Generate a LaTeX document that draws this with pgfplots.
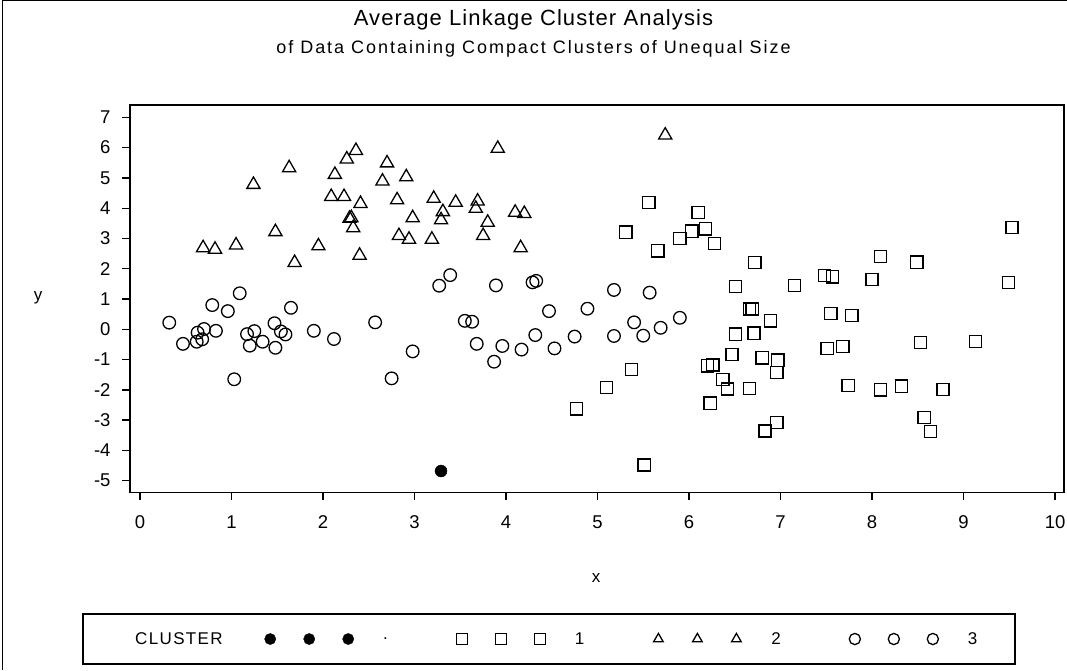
\documentclass[border=0pt]{standalone}
\usepackage{fontspec}
\setmainfont{Liberation Sans}
\usepackage{pgfplots}
\pgfplotsset{compat=1.18}

% cluster membership from the average linkage run
\pgfplotstableread{
x y
3.29 -4.68
}\clusterdot

\newcommand\sasfont[2]{\fontsize{#1}{#1}\selectfont\addfontfeature{LetterSpace=#2}}

\begin{document}
\begin{tikzpicture}[x=1pt,y=1pt]
\useasboundingbox (0,0) rectangle (1067,670);
% page frame
\draw[line width=1.4pt] (2.5,0) -- (2.5,669.3) -- (1067,669.3);
% titles
\node[font=\sasfont{22}{5}] at (533.5,650) {Average Linkage Cluster Analysis};
\node[font=\sasfont{18}{11}] at (533.5,621) {of Data Containing Compact Clusters of Unequal Size};
% legend frame and header
\draw[line width=1.3pt] (83,6) rectangle (1015,56);
\node[font=\sasfont{17}{8}, anchor=west, inner sep=0pt] at (135,31) {CLUSTER};

\begin{axis}[
  at={(130pt,177.7pt)}, anchor=south west,
  scale only axis, width=934pt, height=387.3pt,
  xmin=-0.109, xmax=10.098, ymin=-5.383, ymax=7.408,
  xtick={0,...,10}, ytick={-5,...,7},
  tick pos=left, tick align=outside,
  major tick length=8pt,
  axis line style={line width=1.3pt},
  every tick/.style={line width=1.3pt, black},
  tick label style={font=\fontsize{18.5}{20}\selectfont},
  xticklabel style={yshift=-12pt},
  yticklabel style={xshift=-8pt},
  /pgf/number format/assume math mode=true,
  xlabel={x}, ylabel={y},
  label style={font=\fontsize{17}{20}\selectfont},
  xlabel style={at={(0.499,-0.2213)}, anchor=center},
  ylabel style={at={(-0.0985,0.5017)}, anchor=center, rotate=-90},
  legend columns=4,
  legend style={at={(0.1435,-0.3788)}, anchor=west, draw=none, fill=none,
    inner sep=0pt, font=\fontsize{17}{20}\selectfont,
    nodes={inner sep=0pt},
    /tikz/every odd column/.style={column sep=29pt},
    /tikz/every even column/.style={column sep=68pt}},
  legend image code/.code={
    \path[draw=none, fill=none] (-6pt,-6pt) rectangle (84pt,6pt);
    \draw[only marks, mark size=5.6pt] plot coordinates {(0pt,0pt) (39pt,0pt) (78pt,0pt)};
  },
]
\addplot[only marks, mark=*, mark size=6pt, black] table {\clusterdot};
\addlegendentry{.}

\addplot[only marks, mark=square, mark size=6.1pt, black, mark options={line width=1.3pt}] coordinates {
(5.56,4.19) (5.31,3.21) (6.10,3.85) (6.03,3.24) (6.18,3.32) (5.90,3.00)
(6.28,2.84) (5.66,2.59) (6.72,2.21) (6.51,1.41) (7.15,1.44) (7.48,1.77)
(7.57,1.73) (8.09,2.40) (8.49,2.22) (8.00,1.65) (9.53,3.37) (9.49,1.54)
(5.37,-1.32) (5.10,-1.92) (5.51,-4.48) (6.66,0.67) (6.69,0.67) (6.89,0.28)
(6.51,-0.16) (6.71,-0.13) (6.47,-0.84) (6.20,-1.21) (6.26,-1.18) (6.37,-1.65)
(6.42,-1.97) (6.23,-2.44) (6.66,-1.95) (6.80,-0.94) (6.97,-1.02) (6.96,-1.43)
(6.96,-3.08) (6.83,-3.36) (7.55,0.53) (7.78,0.45) (7.51,-0.63) (7.68,-0.57)
(7.74,-1.86) (8.09,-2.00) (8.32,-1.88) (8.77,-1.99) (8.78,-1.98) (8.53,-0.44)
(9.13,-0.41) (8.57,-2.92) (8.64,-3.38) (4.77,-2.63)
};
\addlegendentry{1}

\addplot[only marks, mark=triangle, mark size=7.6pt, black, mark options={line width=1.3pt}] coordinates {
(0.69,2.69) (0.82,2.64) (1.05,2.78) (1.24,4.78) (1.48,3.22) (1.63,5.33)
(1.69,2.20) (1.95,2.75) (2.09,4.38) (2.23,4.38) (2.13,5.11) (2.26,5.62)
(2.36,5.90) (2.29,3.66) (2.31,3.68) (2.33,3.35) (2.41,4.15) (2.40,2.44)
(2.65,4.89) (2.70,5.49) (2.81,4.27) (2.91,5.03) (2.83,3.09) (2.94,2.97)
(2.98,3.68) (3.19,2.97) (3.21,4.32) (3.31,3.88) (3.29,3.61) (3.45,4.19)
(3.69,4.23) (3.67,3.99) (3.80,3.53) (3.75,3.09) (3.91,5.97) (4.10,3.86)
(4.20,3.82) (4.16,2.69) (5.74,6.41)
};
\addlegendentry{2}

\addplot[only marks, mark=o, mark size=6.3pt, black, mark options={line width=1.3pt}] coordinates {
(0.32,0.22) (0.47,-0.48) (0.63,-0.11) (0.70,0.01) (0.62,-0.41) (0.68,-0.33)
(0.79,0.80) (0.83,-0.05) (0.96,0.60) (1.09,1.19) (1.03,-1.65) (1.17,-0.16)
(1.25,-0.06) (1.20,-0.54) (1.34,-0.41) (1.47,0.20) (1.48,-0.61) (1.54,-0.07)
(1.59,-0.17) (1.65,0.71) (1.90,-0.05) (2.12,-0.32) (2.57,0.23) (2.75,-1.62)
(2.98,-0.73) (3.27,1.44) (3.39,1.79) (3.89,1.45) (4.29,1.55) (4.33,1.60)
(3.55,0.28) (3.63,0.25) (3.68,-0.48) (3.87,-1.07) (3.96,-0.55) (4.17,-0.67)
(4.32,-0.19) (4.47,0.60) (4.53,-0.63) (4.75,-0.24) (4.89,0.68) (5.18,1.30)
(5.57,1.21) (5.18,-0.22) (5.40,0.23) (5.50,-0.21) (5.69,0.05) (5.90,0.38)
};
\addlegendentry{3}
\end{axis}
\end{tikzpicture}
\end{document}
